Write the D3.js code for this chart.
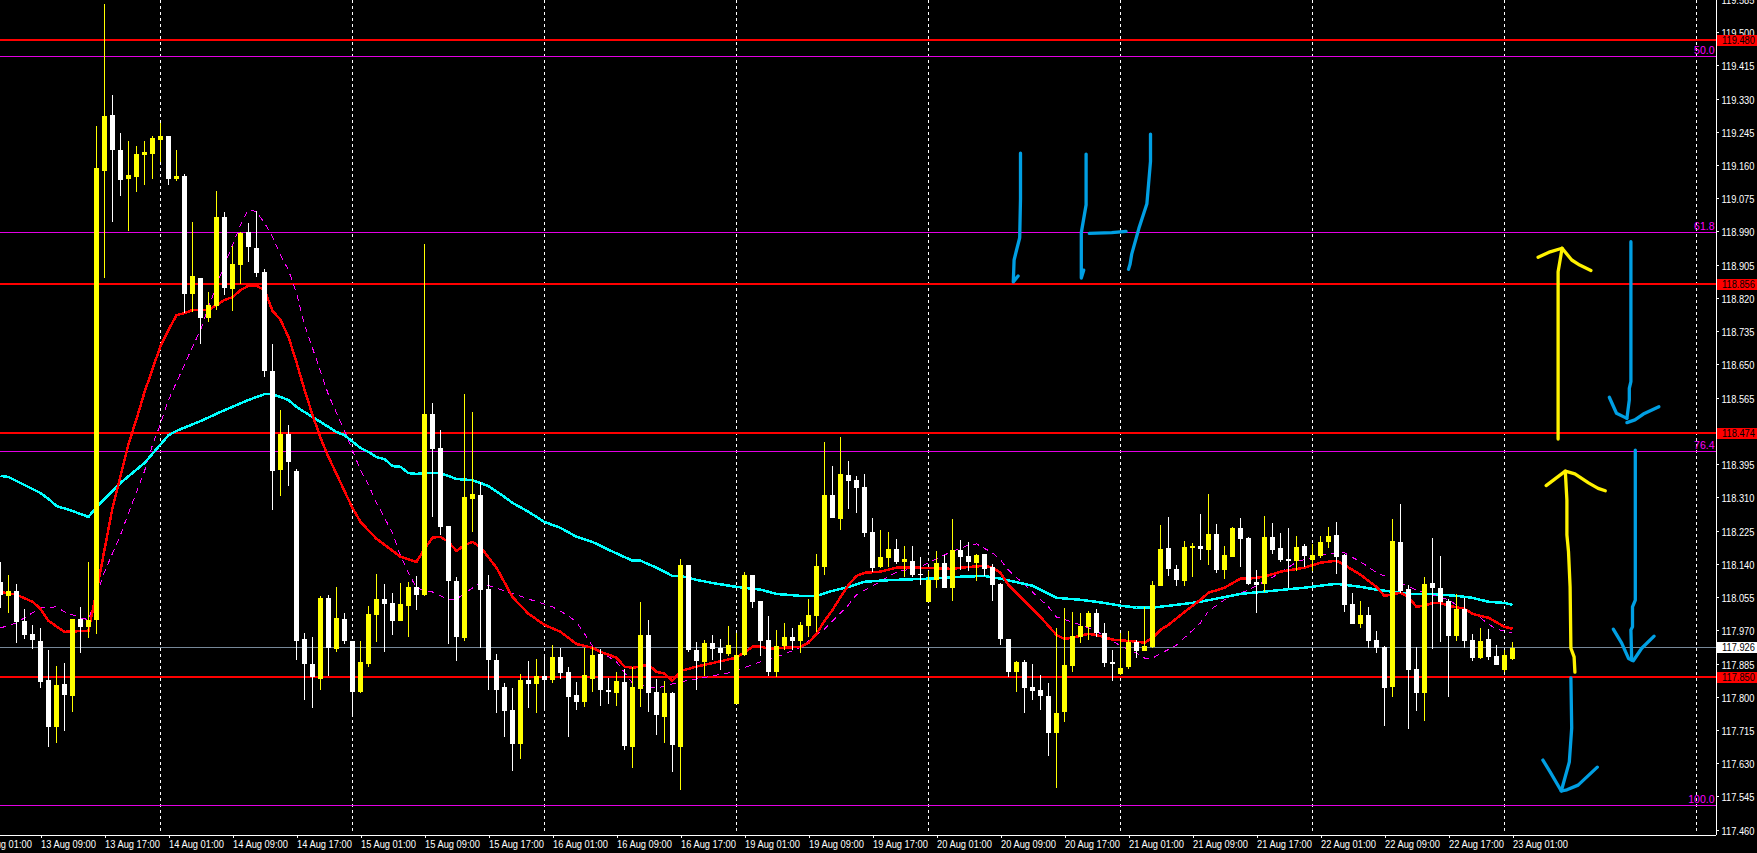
<!DOCTYPE html>
<html>
<head>
<meta charset="utf-8">
<script src="https://cdn.jsdelivr.net/npm/d3@7/dist/d3.min.js"></script>
<style>
html,body{margin:0;padding:0;background:#000;overflow:hidden}
svg{display:block}
text{font-family:"Liberation Sans",Arial,sans-serif}
</style>
</head>
<body>
<svg id="c" width="1757" height="853"></svg>
<script>
const openPrices = [
118.094,118.058,118.071,117.994,117.961,117.943,117.843,117.723,117.833,117.802,
118.000,117.979,117.997,119.145,119.288,119.198,119.124,119.129,119.186,119.188,
119.224,119.234,119.124,119.132,118.830,118.871,118.769,118.799,119.027,118.843,
118.904,118.989,118.948,118.886,118.633,118.380,118.472,118.377,117.948,117.884,
117.846,118.053,117.923,118.000,117.943,117.813,117.884,118.010,118.051,118.040,
117.994,118.033,118.081,118.061,118.523,118.436,118.237,118.097,117.951,118.306,
118.316,118.076,117.894,117.825,117.767,117.679,117.843,117.833,117.854,117.843,
117.902,117.864,117.805,117.787,117.846,117.910,117.818,117.810,117.838,117.671,
117.820,117.958,117.813,117.749,117.810,117.671,118.137,117.920,117.889,117.938,
117.925,117.910,117.782,117.907,118.112,118.045,117.946,117.864,117.930,117.953,
117.943,117.982,118.007,118.132,118.316,118.255,118.367,118.354,118.337,118.222,
118.132,118.156,118.178,118.145,118.148,118.114,118.043,118.099,118.143,118.079,
118.176,118.161,118.143,118.166,118.132,118.089,117.948,117.864,117.889,117.825,
117.818,117.802,117.708,117.761,117.879,117.953,117.979,118.015,117.964,117.889,
117.859,117.877,117.941,117.917,117.928,118.084,118.181,118.127,118.097,118.181,
118.186,118.176,118.217,118.125,118.158,118.232,118.207,118.094,118.089,118.209,
118.181,118.153,118.148,118.186,118.150,118.161,118.196,118.214,118.163,118.038,
117.987,118.010,117.946,117.928,117.825,118.196,118.076,117.871,117.810,118.091,
118.079,118.045,117.956,118.025,117.946,117.900,117.948,117.905,117.869,117.897];
const highPrices = [
118.145,118.112,118.089,118.025,117.984,117.976,117.920,117.879,117.887,118.000,
118.030,118.145,119.260,119.572,119.339,119.242,119.221,119.209,119.221,119.234,
119.267,119.234,119.198,119.137,119.014,118.871,118.835,119.093,119.040,118.953,
118.989,119.012,119.042,118.894,118.702,118.533,118.495,118.382,117.964,117.953,
118.058,118.061,118.081,118.015,117.943,117.943,118.033,118.114,118.089,118.066,
118.091,118.094,118.109,118.958,118.551,118.482,118.237,118.107,118.574,118.528,
118.349,118.112,117.910,117.836,117.823,117.859,117.892,117.897,117.902,117.933,
117.925,117.877,117.838,117.925,117.928,117.923,117.848,117.864,117.871,117.877,
118.043,117.997,117.846,117.841,117.813,118.153,118.137,117.941,117.946,117.958,
117.948,117.982,117.964,118.120,118.112,118.045,118.007,117.971,117.989,117.976,
117.992,118.051,118.166,118.452,118.390,118.464,118.403,118.365,118.370,118.257,
118.227,118.222,118.204,118.186,118.186,118.158,118.122,118.173,118.163,118.255,
118.201,118.196,118.166,118.166,118.140,118.091,117.948,117.892,117.894,117.884,
117.856,117.836,117.976,118.028,118.017,118.015,118.020,118.025,117.989,117.920,
117.964,117.969,117.946,118.030,118.097,118.240,118.260,118.137,118.199,118.194,
118.267,118.319,118.242,118.186,118.235,118.257,118.209,118.125,118.262,118.245,
118.219,118.232,118.212,118.191,118.191,118.212,118.235,118.247,118.166,118.066,
118.045,118.030,117.969,117.930,118.255,118.293,118.086,117.928,118.107,118.207,
118.161,118.051,118.063,118.053,117.961,117.976,117.974,117.933,117.920,117.941];
const lowPrices = [
118.028,118.015,117.938,117.948,117.923,117.823,117.671,117.682,117.713,117.761,
117.912,117.951,117.961,118.871,119.014,119.081,118.991,119.091,119.109,119.124,
119.168,119.109,119.119,118.781,118.784,118.702,118.758,118.789,118.827,118.787,
118.856,118.912,118.874,118.618,118.278,118.313,118.339,117.894,117.792,117.772,
117.818,117.854,117.915,117.935,117.756,117.810,117.877,117.941,117.915,117.958,
117.994,117.953,118.022,118.058,118.260,118.214,117.935,117.892,117.943,118.222,
117.925,117.818,117.759,117.697,117.610,117.641,117.772,117.759,117.769,117.836,
117.846,117.697,117.767,117.774,117.813,117.777,117.782,117.777,117.664,117.618,
117.774,117.761,117.703,117.682,117.608,117.562,117.915,117.818,117.854,117.894,
117.869,117.905,117.782,117.905,118.028,117.905,117.854,117.851,117.920,117.920,
117.912,117.953,117.966,118.112,118.257,118.227,118.281,118.270,118.209,118.120,
118.130,118.132,118.140,118.107,118.107,118.086,118.043,118.079,118.079,118.045,
118.125,118.122,118.097,118.109,118.045,117.933,117.851,117.813,117.759,117.792,
117.767,117.648,117.567,117.736,117.864,117.938,117.946,117.953,117.877,117.841,
117.856,117.871,117.900,117.917,117.925,118.084,118.109,118.084,118.084,118.107,
118.150,118.137,118.117,118.102,118.158,118.132,118.086,118.015,118.068,118.166,
118.145,118.079,118.122,118.132,118.122,118.156,118.181,118.114,118.017,117.987,
117.976,117.925,117.912,117.726,117.800,118.066,117.718,117.764,117.738,117.923,
117.941,117.800,117.943,117.925,117.892,117.897,117.894,117.882,117.864,117.894];
const closePrices = [
118.061,118.071,117.992,117.958,117.946,117.838,117.723,117.831,117.805,118.000,
117.979,117.997,119.152,119.285,119.198,119.122,119.134,119.188,119.193,119.229,
119.234,119.124,119.132,118.830,118.876,118.769,118.802,119.027,118.845,118.907,
118.986,118.950,118.884,118.633,118.377,118.472,118.400,117.943,117.884,117.851,
118.053,117.925,118.002,117.943,117.813,117.889,118.012,118.051,118.038,117.994,
118.038,118.081,118.061,118.523,118.434,118.235,118.097,117.953,118.311,118.319,
118.074,117.894,117.818,117.764,117.679,117.843,117.833,117.854,117.843,117.902,
117.861,117.800,117.787,117.856,117.907,117.818,117.813,117.841,117.674,117.825,
117.958,117.810,117.754,117.810,117.676,118.137,117.920,117.892,117.938,117.923,
117.912,117.933,117.907,118.112,118.043,117.943,117.864,117.930,117.953,117.943,
117.984,118.010,118.135,118.316,118.257,118.370,118.352,118.334,118.219,118.130,
118.158,118.178,118.145,118.153,118.112,118.112,118.099,118.143,118.079,118.176,
118.158,118.145,118.163,118.127,118.086,117.948,117.864,117.889,117.823,117.815,
117.802,117.708,117.759,117.882,117.956,117.982,118.015,117.964,117.887,117.884,
117.874,117.941,117.917,117.930,118.086,118.178,118.127,118.099,118.183,118.186,
118.178,118.217,118.125,118.163,118.232,118.204,118.089,118.086,118.209,118.176,
118.150,118.148,118.183,118.161,118.163,118.196,118.212,118.158,118.035,117.987,
118.010,117.943,117.925,117.823,118.199,118.071,117.869,117.810,118.089,118.079,
118.043,117.956,118.025,117.943,117.900,117.943,117.902,117.882,117.907,117.925];

const redBars = [0,2,4,5,6,8,11,12,13,14,16,17,18,20,21,22,23,24,26,28,29,30,31,32,33,34,35,36,37,38,39,40,41,42,43,44,45,47,50,52,53,54,55,56,57,58,59,60,62,64,66,68,70,72,74,75,77,78,79,81,82,83,84,85,87,92,94,95,96,100,101,102,103,104,105,106,107,108,110,112,115,119,120,123,124,125,126,128,130,132,133,134,136,137,139,142,143,144,145,146,148,150,151,153,155,156,158,160,163,165,167,168,170,172,173,175,176,177,178,179,180,181,183,184,186,188,189];
const redValues = [118.068,118.061,118.043,118.025,117.994,117.966,117.969,118.068,118.176,118.283,118.446,118.510,118.579,118.697,118.738,118.776,118.781,118.789,118.789,118.815,118.822,118.840,118.851,118.851,118.840,118.787,118.764,118.720,118.656,118.585,118.521,118.462,118.413,118.370,118.326,118.283,118.247,118.204,118.158,118.145,118.178,118.207,118.209,118.196,118.173,118.188,118.196,118.183,118.130,118.055,118.012,117.984,117.966,117.935,117.925,117.915,117.900,117.877,117.874,117.882,117.864,117.859,117.841,117.866,117.877,117.900,117.928,117.928,117.923,117.928,117.938,117.961,117.994,118.022,118.055,118.086,118.109,118.117,118.120,118.130,118.130,118.127,118.130,118.135,118.130,118.117,118.086,118.045,118.004,117.958,117.948,117.951,117.961,117.958,117.946,117.941,117.938,117.951,117.971,117.984,118.017,118.048,118.066,118.079,118.102,118.102,118.107,118.120,118.130,118.143,118.148,118.137,118.112,118.081,118.058,118.066,118.055,118.030,118.033,118.040,118.040,118.033,118.025,118.012,118.002,117.979,117.974];

const cyanBars = [0,1,5,6,7,9,11,12,15,18,21,22,25,28,31,33,34,36,37,40,42,43,45,46,47,48,49,50,51,52,53,55,57,59,61,63,64,66,68,70,72,74,76,79,80,82,84,85,87,89,92,95,97,100,102,104,106,108,110,112,116,120,123,125,129,132,135,138,140,142,144,147,150,152,155,159,163,167,170,172,176,179,182,184,186,188,189];
const cyanValues = [118.365,118.362,118.321,118.306,118.288,118.275,118.260,118.285,118.347,118.398,118.469,118.480,118.505,118.533,118.559,118.574,118.574,118.559,118.541,118.503,118.477,118.469,118.436,118.426,118.413,118.408,118.390,118.388,118.372,118.370,118.372,118.372,118.357,118.354,118.339,118.311,118.296,118.273,118.247,118.232,118.209,118.196,118.176,118.148,118.148,118.130,118.109,118.109,118.099,118.091,118.081,118.074,118.063,118.058,118.058,118.071,118.081,118.094,118.097,118.099,118.102,118.107,118.109,118.102,118.084,118.053,118.048,118.040,118.033,118.028,118.028,118.035,118.043,118.051,118.063,118.071,118.079,118.089,118.081,118.074,118.063,118.063,118.058,118.053,118.043,118.040,118.035];

const magentaBars = [0,2,4,5,7,8,10,11,12,13,15,16,18,19,20,21,24,25,27,28,30,31,32,33,34,35,36,37,38,39,41,43,45,46,47,49,50,51,52,54,56,57,59,60,63,66,69,71,72,73,74,77,79,82,85,91,95,98,100,103,106,107,109,112,115,118,121,122,124,125,126,129,131,132,134,137,140,142,143,144,147,150,151,153,156,160,162,165,167,168,170,171,172,174,175,177,180,181,183,185,186,187,189];
const magentaValues = [117.976,117.989,118.015,118.027,118.030,118.017,118.002,117.997,118.061,118.119,118.214,118.270,118.377,118.444,118.498,118.559,118.695,118.738,118.853,118.904,119.007,119.047,119.040,119.012,118.976,118.930,118.891,118.833,118.751,118.692,118.572,118.480,118.380,118.342,118.296,118.219,118.160,118.117,118.078,118.068,118.048,118.050,118.078,118.091,118.071,118.050,118.030,118.007,117.991,117.961,117.930,117.889,117.835,117.822,117.838,117.861,117.889,117.909,117.927,117.973,118.035,118.061,118.083,118.119,118.132,118.163,118.188,118.191,118.168,118.150,118.124,118.068,118.030,118.004,117.991,117.968,117.930,117.912,117.899,117.899,117.932,117.989,118.019,118.048,118.073,118.117,118.145,118.163,118.168,118.168,118.145,118.132,118.117,118.101,118.091,118.073,118.055,118.048,118.022,118.002,117.986,117.973,117.963];

const supportLevels = [119.480,118.856,118.474,117.850];
const fibLevels = [119.438,118.988,118.428,117.523];
const fibLabels = ["50.0","61.8","76.4","100.0"];
const lastPrice = 117.926;
const dayLineBars = [20,44,68,92,116,140,164,188,212];
const priceTicks = [119.585,119.500,119.415,119.330,119.245,119.160,119.075,118.990,118.905,118.820,118.735,118.650,118.565,118.480,118.395,118.310,118.225,118.140,118.055,117.970,117.885,117.800,117.715,117.630,117.545,117.460];
const timeTickBars = [-3,5,13,21,29,37,45,53,61,69,77,85,93,101,109,117,125,133,141,149,157,165,173,181,189];
const timeLabels = ["13 Aug 01:00","13 Aug 09:00","13 Aug 17:00","14 Aug 01:00","14 Aug 09:00","14 Aug 17:00","15 Aug 01:00","15 Aug 09:00","15 Aug 17:00","16 Aug 01:00","16 Aug 09:00","16 Aug 17:00","19 Aug 01:00","19 Aug 09:00","19 Aug 17:00","20 Aug 01:00","20 Aug 09:00","20 Aug 17:00","21 Aug 01:00","21 Aug 09:00","21 Aug 17:00","22 Aug 01:00","22 Aug 09:00","22 Aug 17:00","23 Aug 01:00"];

// hand-drawn annotations, as [bar, price]
const blueStrokes = [
 [[127.5,119.190],[127.5,119.073],[127.4,118.974],[127.0,118.942],[126.7,118.917],[126.6,118.861],[127.2,118.876]],
 [[135.7,119.188],[135.7,119.058],[135.1,118.987],[135.1,118.871],[135.4,118.891]],
 [[136.1,118.985],[138.9,118.987],[140.7,118.990]],
 [[143.75,119.239],[143.75,119.169],[143.3,119.061],[142.3,118.998],[141.4,118.932],[141.2,118.907],[141.0,118.893]],
 [[203.8,118.964],[203.8,118.606],[203.6,118.589],[203.6,118.559],[203.3,118.512]],
 [[201.1,118.566],[202.0,118.525],[203.3,118.512]],
 [[203.3,118.501],[204.3,118.508],[205.35,118.523],[207.3,118.542]],
 [[204.35,118.431],[204.35,118.047],[204,118.030],[204,117.979],[203.8,117.971],[203.9,117.894]],
 [[201.6,117.973],[202.65,117.937],[203.5,117.898],[204.1,117.892],[205.15,117.924],[206.7,117.955]],
 [[196.3,117.848],[196.4,117.720],[196.1,117.633],[195.1,117.559]],
 [[192.8,117.638],[193.7,117.608],[195.1,117.559],[195.8,117.562],[197.2,117.574],[199.6,117.620]]
];
const yellowStrokes = [
 [[194.7,118.459],[194.7,118.887],[195.2,118.947]],
 [[192.2,118.924],[193.7,118.938],[195.2,118.947],[196.4,118.917],[197.4,118.904],[198.8,118.890]],
 [[193.2,118.340],[195.6,118.377],[196.8,118.370],[198.5,118.347],[199.7,118.333],[200.6,118.327]],
 [[195.6,118.377],[195.8,118.303],[195.8,118.214],[196,118.171],[196.2,118.081],[196.3,117.924],[196.7,117.902],[196.8,117.863]]
];

const axisX = 1715.5, axisY = 834.5;
const x = d3.scaleLinear().domain([0, 214.375]).range([0.5, axisX]);
const y = d3.scaleLinear().domain([119.582, 117.449]).range([0, 834]);
const svg = d3.select("#c");
const plot = svg.append("g");
const crisp = g => g.attr("shape-rendering","crispEdges");
const rowY = v => Math.floor(y(v)) + 0.5;

// day separators
plot.append("g").call(crisp).selectAll("line").data(dayLineBars).join("line")
  .attr("x1",d=>x(d)).attr("x2",d=>x(d)).attr("y1",0).attr("y2",834)
  .attr("stroke","#fff").attr("stroke-dasharray","3,3");

// horizontal levels
plot.append("g").call(crisp).selectAll("line").data(fibLevels).join("line")
  .attr("x1",0).attr("x2",axisX).attr("y1",rowY).attr("y2",rowY)
  .attr("stroke","#e400e4");
plot.append("line").call(crisp)
  .attr("x1",0).attr("x2",axisX).attr("y1",rowY(lastPrice)).attr("y2",rowY(lastPrice)).attr("stroke","#778899");
plot.append("g").call(crisp).selectAll("line").data(supportLevels).join("line")
  .attr("x1",0).attr("x2",axisX).attr("y1",d=>Math.round(y(d))).attr("y2",d=>Math.round(y(d)))
  .attr("stroke","#f00").attr("stroke-width",2);

// moving averages
const pts = (bars,vals)=>bars.map((b,i)=>[b,vals[i]]);
const line = d3.line().x(d=>x(d[0])).y(d=>y(d[1]));
plot.append("path").datum(pts(magentaBars,magentaValues)).attr("d",line).call(crisp)
  .attr("fill","none").attr("stroke","#ff00ff").attr("stroke-dasharray","6,5");
plot.append("path").datum(pts(cyanBars,cyanValues)).attr("d",line).call(crisp)
  .attr("fill","none").attr("stroke","#00ffff").attr("stroke-width",2.5);
plot.append("path").datum(pts(redBars,redValues)).attr("d",line).call(crisp)
  .attr("fill","none").attr("stroke","#f00").attr("stroke-width",2.5);

// candles
const candles = openPrices.map((o,i)=>({i,o,h:highPrices[i],l:lowPrices[i],c:closePrices[i]}));
const colour = d=>d.c>=d.o?"#ffff00":"#ffffff";
const cg = plot.append("g").call(crisp);
cg.selectAll("line").data(candles).join("line")
  .attr("x1",d=>x(d.i)).attr("x2",d=>x(d.i))
  .attr("y1",d=>y(d.h)).attr("y2",d=>y(d.l)).attr("stroke",colour);
cg.selectAll("rect").data(candles).join("rect")
  .attr("x",d=>x(d.i)-2.5).attr("width",5)
  .attr("y",d=>y(Math.max(d.o,d.c)))
  .attr("height",d=>Math.max(1,y(Math.min(d.o,d.c))-y(Math.max(d.o,d.c))))
  .attr("fill",colour);

// fib labels
plot.selectAll(".fib").data(fibLevels).join("text").attr("class","fib")
  .attr("x",axisX-1).attr("y",d=>y(d)-2).attr("text-anchor","end")
  .attr("font-size",10.5).attr("fill","#ff00ff")
  .text((d,i)=>fibLabels[i]);

// hand strokes
const hand = d3.line().x(d=>x(d[0])).y(d=>y(d[1])).curve(d3.curveLinear);
plot.selectAll(".blue").data(blueStrokes).join("path").attr("class","blue").attr("d",hand)
  .attr("fill","none").attr("stroke","#009fe3").attr("stroke-width",3.3)
  .attr("stroke-linecap","round").attr("stroke-linejoin","round");
plot.selectAll(".yel").data(yellowStrokes).join("path").attr("class","yel").attr("d",hand)
  .attr("fill","none").attr("stroke","#fff200").attr("stroke-width",3.3)
  .attr("stroke-linecap","round").attr("stroke-linejoin","round");

// narrow the real text to the reference's condensed label width, without overflowing the page
const fitWidth = (sel, target, ox, oy) => sel.each(function(){
  const t = d3.select(this);
  const s = target / this.getComputedTextLength();
  t.attr("x",0).attr("y",0).attr("transform",`translate(${ox},${oy}) scale(${s},1)`);
});

// axes
const styleAxis = g => {
  g.selectAll("path,line").attr("stroke","#fff").attr("shape-rendering","crispEdges");
  g.selectAll("text").attr("fill","#fff").attr("font-size",11)
   .attr("font-family",'"Liberation Sans",Arial,sans-serif');
};
const yAxis = svg.append("g").attr("transform",`translate(${axisX},0)`)
  .call(d3.axisRight(y).tickValues(priceTicks).tickFormat(d3.format(".3f")).tickSize(3).tickPadding(3))
  .call(styleAxis);
yAxis.select(".domain").attr("d","M0.5,0V834.5");
yAxis.selectAll("text").call(fitWidth, 33, 6, 1);

const xAxis = svg.append("g").attr("transform",`translate(0,${axisY})`)
  .call(d3.axisBottom(x).tickValues(timeTickBars).tickFormat((d,i)=>timeLabels[i]).tickSize(3).tickPadding(3))
  .call(styleAxis);
xAxis.select(".domain").attr("d",`M0,0.5H${axisX}`);
xAxis.selectAll("text").attr("text-anchor","start").call(fitWidth, 55, 0, 6);

// price boxes
const boxes = supportLevels.map(v=>({v,fill:"#f00"})).concat([{v:lastPrice,fill:"#fff"}]);
const bx = svg.append("g");
bx.selectAll("rect").data(boxes).join("rect").call(crisp)
  .attr("x",1717).attr("width",40).attr("y",d=>Math.round(y(d.v))-5).attr("height",11).attr("fill",d=>d.fill);
bx.selectAll("g").data(boxes).join("g").attr("transform",d=>`translate(0,${y(d.v)+4})`)
  .append("text").attr("font-size",11).attr("fill","#000")
  .text(d=>d3.format(".3f")(d.v))
  .call(fitWidth, 33, 1722, 0);
</script>
</body>
</html>
